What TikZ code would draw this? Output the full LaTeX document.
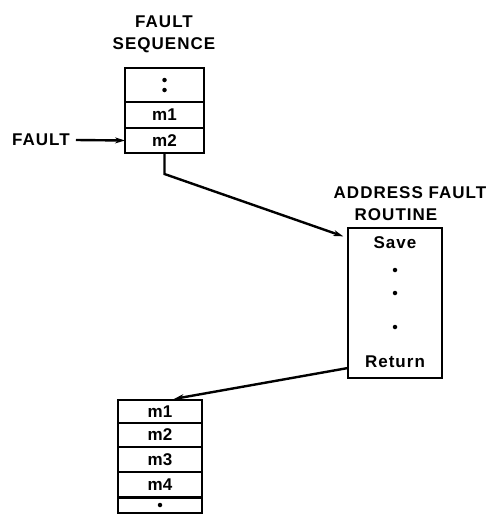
\documentclass[tikz,border=0pt]{standalone}
\usepackage{fontspec}
\setmainfont{Liberation Sans}
\usetikzlibrary{arrows.meta,calc}
\tikzset{
  lbl/.style={inner sep=0pt, font=\fontsize{17}{22}\selectfont\bfseries\addfontfeatures{LetterSpace=6}},
  cell/.style={draw, line width=2pt, rectangle, inner sep=0pt, outer sep=0pt, font=\fontsize{17}{18}\selectfont\bfseries},
  conn/.style={line width=2.4pt, -{Stealth[length=10pt,width=6pt]}},
  dotmark/.style={fill, circle, inner sep=0pt, minimum size=4.5pt}
}
\begin{document}
\begin{tikzpicture}[x=1pt,y=-1pt]
\useasboundingbox (0,0) rectangle (488,514);
% fault sequence
\node[lbl, align=center] (t1) at (164,34) {FAULT\\SEQUENCE};
\node[cell, minimum width=79pt, minimum height=34pt] (r0) at (164.5,85) {};
\node[dotmark] (r0a) at (164.5,80) {};
\node[dotmark] (r0b) at (164.5,90) {};
\node[cell, minimum width=79pt, minimum height=26pt] (r1) at (164.5,115) {m1};
\node[cell, minimum width=79pt, minimum height=25pt] (r2) at (164.5,140.5) {m2};
\node[lbl] (fl) at (41,140) {FAULT};
\draw[conn] (fl.east) ++(6pt,0) coordinate (fs) (fs) -- (r2.west);
% address fault routine
\node[lbl] (t2) at (410,193) {ADDRESS FAULT};
\node[lbl] (t3) at (396,215) {ROUTINE};
\node[cell, minimum width=94pt, minimum height=150pt] (afr) at (395,303) {};
\node[lbl] (sv) at (395,243) {Save};
\node[dotmark] (d1) at (395,270) {};
\node[dotmark] (d2) at (395,293) {};
\node[dotmark] (d3) at (395,327) {};
\node[lbl] (rt) at (395,362) {Return};
% connector to routine
\draw[conn, shorten >=5pt] (r2.south) -- ++(0,-21pt) coordinate (bend) -- ([yshift=-10pt]afr.north west);
% result sequence
\node[cell, minimum width=84pt, minimum height=23pt] (b1) at (160,411.5) {m1};
\node[cell, minimum width=84pt, minimum height=24pt] (b2) at (160,435) {m2};
\node[cell, minimum width=84pt, minimum height=25pt] (b3) at (160,459.5) {m3};
\node[cell, minimum width=84pt, minimum height=25pt] (b4) at (160,484.5) {m4};
\node[cell, minimum width=84pt, minimum height=15pt] (b5) at (160,505) {};
\node[dotmark] (b5d) at (160,505) {};
\draw[conn, shorten >=6pt] ([yshift=10pt]afr.south west) -- ([xshift=8pt]b1.north);
\end{tikzpicture}
\end{document}
